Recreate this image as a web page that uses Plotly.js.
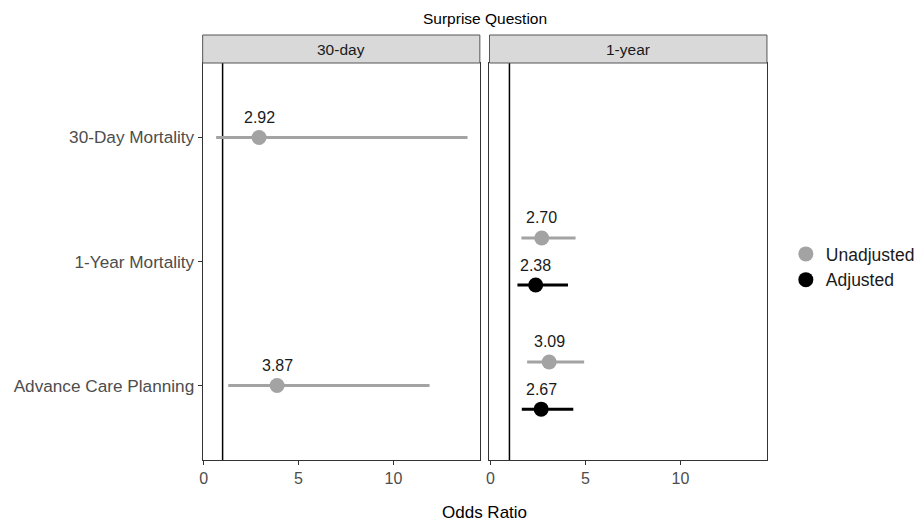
<!DOCTYPE html>
<html><head><meta charset="utf-8">
<script src="https://cdn.plot.ly/plotly-3.0.1.min.js"></script>
<style>html,body{margin:0;padding:0;background:#fff;overflow:hidden}</style>
</head><body><div id="chart" style="width:920px;height:524px"></div>
<script>
// ---- data ----
const categories = ["30-Day Mortality", "1-Year Mortality", "Advance Care Planning"];
const panelLabels = ["30-day", "1-year"];
const groupNames = ["Unadjusted", "Adjusted"];
const xTicks = [0, 5, 10];
const refLine = 1;

// 30-day panel (unadjusted only)
const d30Outcomes = ["30-Day Mortality", "Advance Care Planning"];
const d30UnadjOR = [2.92, 3.87];
const d30UnadjLo = [0.66, 1.30];
const d30UnadjHi = [13.9, 11.9];

// 1-year panel
const y1Outcomes = ["1-Year Mortality", "Advance Care Planning"];
const y1UnadjOR = [2.70, 3.09];
const y1UnadjLo = [1.63, 1.93];
const y1UnadjHi = [4.48, 4.93];
const y1AdjOR = [2.38, 2.67];
const y1AdjLo = [1.42, 1.65];
const y1AdjHi = [4.08, 4.36];

// ---- styles ----
const colors = {Unadjusted: "#A3A3A3", Adjusted: "#000000"};
const dodge = 0.19;
const W = 920, H = 524;
const px = v => v / W, py = v => 1 - v / H;
const panelTop = 63, panelBottom = 460, stripTop = 35;
const dom1 = [px(204), px(483)], dom2 = [px(492.7), px(772)];
const ydom = [py(panelBottom), py(panelTop)];
const font = "Liberation Sans, Arial, sans-serif";

function catPos(c) { return categories.length - categories.indexOf(c); }

const traces = [];
const annotations = [];
function addSeries(outcomes, or, lo, hi, name, off, xa, ya, showlegend) {
  const ys = outcomes.map(c => catPos(c) + off);
  traces.push({
    type: "scatter", mode: "markers", name: name, legendgroup: name,
    showlegend: showlegend, xaxis: xa, yaxis: ya,
    x: or, y: ys,
    marker: {color: colors[name], size: 15},
    error_x: {type: "data", symmetric: false,
      array: or.map((v, i) => hi[i] - v), arrayminus: or.map((v, i) => v - lo[i]),
      color: colors[name], thickness: 3, width: 0},
    hoverinfo: "x+y"
  });
  or.forEach((v, i) => annotations.push({
    xref: xa, yref: ya, x: v, y: ys[i], text: v.toFixed(2), showarrow: false,
    xanchor: "center", yanchor: "middle",
    yshift: 20, font: {family: font, size: 16, color: "#1a1a1a"}
  }));
}
addSeries(d30Outcomes, d30UnadjOR, d30UnadjLo, d30UnadjHi, "Unadjusted", 0, "x", "y", false);
addSeries(y1Outcomes, y1UnadjOR, y1UnadjLo, y1UnadjHi, "Unadjusted", dodge, "x2", "y2", true);
addSeries(y1Outcomes, y1AdjOR, y1AdjLo, y1AdjHi, "Adjusted", -dodge, "x2", "y2", true);

const xax = d => ({
  domain: d, range: [-0.05, 14.55], tickvals: xTicks, ticktext: xTicks.map(String),
  ticks: "outside", ticklen: 4, tickcolor: "#333", showgrid: false, zeroline: false,
  showline: true, mirror: true, linecolor: "#333", linewidth: 1,
  tickfont: {family: font, size: 16, color: "#4D4D4D"}, fixedrange: true
});
const yax = (anchor, labels) => ({
  domain: ydom, range: [0.4, 3.6], anchor: anchor,
  tickvals: categories.map(catPos), ticktext: categories,
  showticklabels: labels, ticks: labels ? "outside" : "", ticklen: 4, tickcolor: "#333",
  showgrid: false, zeroline: false, showline: true, mirror: true, linecolor: "#333", linewidth: 1,
  tickfont: {family: font, size: 17.2, color: "#4D4D4D"}, fixedrange: true
});

const shapes = [];
["x", "x2"].forEach((xa, i) => {
  const ya = i === 0 ? "y" : "y2";
  shapes.push({type: "line", xref: xa, yref: ya + " domain", x0: refLine, x1: refLine, y0: 0, y1: 1,
    line: {color: "#000", width: 1.5}, layer: "below"});
  shapes.push({type: "rect", xref: xa + " domain", yref: "paper", x0: 0, x1: 1,
    y0: py(panelTop), y1: py(stripTop), fillcolor: "#D9D9D9", line: {color: "#555", width: 1}});
  annotations.push({xref: xa + " domain", yref: "paper", x: 0.5, y: (py(panelTop) + py(stripTop)) / 2,
    xanchor: "center", yanchor: "middle",
    text: panelLabels[i], showarrow: false, font: {family: font, size: 15.5, color: "#1a1a1a"}});
});
annotations.push({xref: "paper", yref: "paper", x: px(488), y: py(18), text: "Surprise Question",
  xanchor: "center", yanchor: "middle",
  showarrow: false, font: {family: font, size: 15.5, color: "#000"}});
annotations.push({xref: "paper", yref: "paper", x: px(488), y: py(512), text: "Odds Ratio",
  xanchor: "center", yanchor: "middle",
  showarrow: false, font: {family: font, size: 17, color: "#000"}});

const layout = {
  width: W, height: H, margin: {l: 0, r: 0, t: 0, b: 0},
  paper_bgcolor: "#fff", plot_bgcolor: "#fff",
  xaxis: xax(dom1), xaxis2: xax(dom2),
  yaxis: yax("x", true), yaxis2: yax("x2", false),
  showlegend: true,
  legend: {x: px(791), y: py(267), xanchor: "left", yanchor: "middle",
    font: {family: font, size: 17.5, color: "#1a1a1a"}, bgcolor: "rgba(0,0,0,0)", traceorder: "normal",
    tracegroupgap: 0},
  shapes: shapes, annotations: annotations
};
Plotly.newPlot("chart", traces, layout, {displayModeBar: false, staticPlot: true});
</script></body></html>
